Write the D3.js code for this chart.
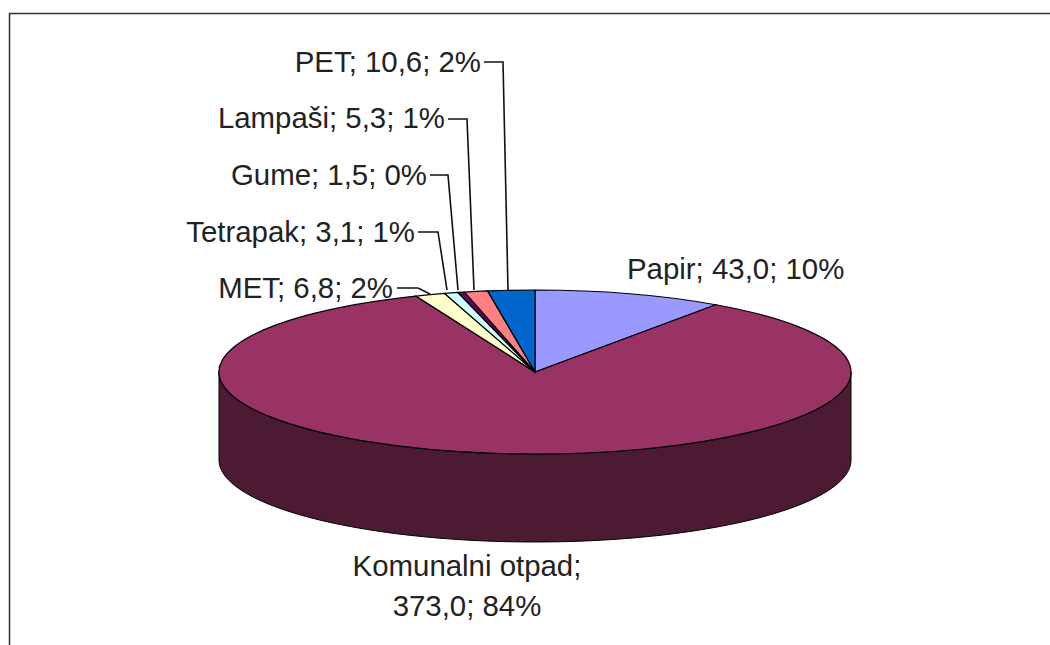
<!DOCTYPE html>
<html>
<head>
<meta charset="utf-8">
<style>
  html, body { margin: 0; padding: 0; background: #fff; overflow: hidden; }
  text { font-family: "Liberation Sans", Arial, sans-serif; fill: #222; }
</style>
<script src="https://d3js.org/d3.v7.min.js"></script>
</head>
<body>
<div id="chart"></div>
<script>
// Data
var categories = ["Papir", "Komunalni otpad", "MET", "Tetrapak", "Gume", "Lampaši", "PET"];
var values = [43.0, 373.0, 6.8, 3.1, 1.5, 5.3, 10.6];
var colors = ["#9999ff", "#993366", "#ffffcc", "#ccffff", "#660066", "#ff8080", "#0066cc"];

// Set the dimensions of the picture and of the tilted pie
var width = 1050, height = 645;
var cx = 535, cy = 372, rx = 316, ry = 82, depth = 88;
var labelSize = 29.4;

const svg = d3
  .select("#chart")
  .append("svg")
  .attr("width", width)
  .attr("height", height);

// Frame, open on the right and at the bottom
svg.append("path")
  .attr("d", "M9.5,645V13.5H1050")
  .attr("fill", "none")
  .attr("stroke", "#333")
  .attr("stroke-width", 1.5);

var total = d3.sum(values);
var pie = d3.pie().sort(null).value(function (d) { return d; });
var arcs = pie(values);
var arc = d3.arc().innerRadius(0).outerRadius(1);

// Wall of the cylinder: the front half of the ellipse pushed down
var frontAngles = d3.range(90, 271, 2).map(function (d) { return d * Math.PI / 180; });
var wall = d3.area()
  .x(function (a) { return cx + rx * Math.sin(a); })
  .y0(function (a) { return cy - ry * Math.cos(a); })
  .y1(function (a) { return cy - ry * Math.cos(a) + depth; });

svg.append("path")
  .attr("d", wall(frontAngles))
  .attr("fill", "#4d1a33")
  .attr("stroke", "#000")
  .attr("stroke-width", 1);

// Slices, drawn on the unit circle and squashed into the ellipse
svg.append("g")
  .attr("transform", "translate(" + cx + "," + cy + ") scale(" + rx + "," + ry + ")")
  .selectAll("path")
  .data(arcs)
  .enter()
  .append("path")
  .attr("d", arc)
  .attr("fill", function (d, i) { return colors[i]; })
  .attr("stroke", "#000")
  .attr("stroke-width", 1.2)
  .attr("vector-effect", "non-scaling-stroke");

// Labels: index into the arrays, anchor position, and the leader elbow
var labelLayout = [
  { i: 0, x: 627, y: 279, anchor: "start" },
  { i: 2, x: 393, y: 298, anchor: "end", line: [[397, 288], [418, 288], [430, 294]] },
  { i: 3, x: 415, y: 242, anchor: "end", line: [[418, 232], [438, 232], [447, 290]] },
  { i: 4, x: 427, y: 185, anchor: "end", line: [[430, 175], [448, 175], [458, 290]] },
  { i: 5, x: 445, y: 128, anchor: "end", line: [[448, 119], [467, 119], [474, 290]] },
  { i: 6, x: 481, y: 72, anchor: "end", line: [[484, 62], [503, 62], [508, 290]] }
];

function labelText(i) {
  return categories[i] + "; " + values[i].toFixed(1).replace(".", ",") + "; " + Math.round(values[i] / total * 100) + "%";
}

labelLayout.forEach(function (l) {
  svg.append("text")
    .attr("x", l.x)
    .attr("y", l.y)
    .attr("text-anchor", l.anchor)
    .attr("font-size", labelSize)
    .text(labelText(l.i));
  if (l.line) {
    svg.append("path")
      .attr("d", d3.line()(l.line))
      .attr("fill", "none")
      .attr("stroke", "#111")
      .attr("stroke-width", 1.6);
  }
});

// The big slice breaks onto two lines under the pie
var bigLabel = labelText(1).split("; ");
svg.append("text")
  .attr("x", 467)
  .attr("y", 576)
  .attr("text-anchor", "middle")
  .attr("font-size", labelSize)
  .text(bigLabel[0] + ";");
svg.append("text")
  .attr("x", 467)
  .attr("y", 616)
  .attr("text-anchor", "middle")
  .attr("font-size", labelSize)
  .text(bigLabel[1] + "; " + bigLabel[2]);
</script>
</body>
</html>
